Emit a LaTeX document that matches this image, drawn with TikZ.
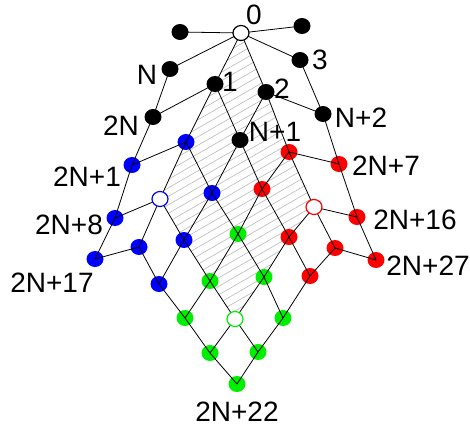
\documentclass[tikz,border=0pt]{standalone}
\usepackage{fontspec}
\setmainfont{Liberation Sans}
\usetikzlibrary{shapes.geometric}
\pgfdeclarelayer{hatch}
\pgfdeclarelayer{dots}
\pgfdeclarelayer{top}
\pgfsetlayers{hatch,dots,main,top}
\definecolor{dotblue}{RGB}{0,0,255}
\definecolor{dotred}{RGB}{255,0,0}
\definecolor{dotgreen}{RGB}{0,238,0}
\definecolor{hatchgray}{RGB}{185,185,185}
\tikzset{
  vtx/.style={ellipse, inner sep=0pt, minimum width=17pt, minimum height=16pt, fill=#1},
  ring/.style={ellipse, inner sep=0pt, minimum width=16pt, minimum height=15pt,
               draw=#1, fill=white, line width=1.2pt},
  lbl/.style={inner sep=0pt, font=\fontsize{28}{30}\selectfont},
  link/.style={line width=0.8pt, black},
  hatchline/.style={hatchgray, line width=0.6pt}
}
\begin{document}
\begin{tikzpicture}[x=1pt, y=-1pt]
\useasboundingbox (0,0) rectangle (470,427);

% corner vertices of the shaded cell (open circles)
\begin{pgfonlayer}{top}
  \node[ring=black]     (g00) at (241,33)  {};
  \node[ring=dotblue]   (g30) at (160,199) {};
  \node[ring=dotred]    (g03) at (314,207) {};
  \node[ring=dotgreen]  (g33) at (235,319) {};
\end{pgfonlayer}

% filled vertices
\begin{pgfonlayer}{dots}
  % top spokes
  \node[vtx=black] (tl) at (180,32) {};
  \node[vtx=black] (tr) at (302,26) {};
  % left column
  \node[vtx=black]   (L0) at (170,69)  {};
  \node[vtx=black]   (L1) at (153,117) {};
  \node[vtx=dotblue] (L2) at (132,165) {};
  \node[vtx=dotblue] (L3) at (115,218) {};
  \node[vtx=dotblue] (L4) at (95,259)  {};
  % right column
  \node[vtx=black]  (R0) at (300,60)  {};
  \node[vtx=black]  (R1) at (323,114) {};
  \node[vtx=dotred] (R2) at (339,164) {};
  \node[vtx=dotred] (R3) at (357,217) {};
  \node[vtx=dotred] (R4) at (376,260) {};
  % lattice
  \node[vtx=black] (g10) at (215,84)  {};
  \node[vtx=black] (g01) at (266,92)  {};
  \node[vtx=black] (g11) at (240,140) {};
  \node[vtx=dotblue] (g20) at (186,142) {};
  \node[vtx=dotblue] (g21) at (212,193) {};
  \node[vtx=dotblue] (g40) at (139,247) {};
  \node[vtx=dotblue] (g31) at (184,240) {};
  \node[vtx=dotblue] (g41) at (159,284) {};
  \node[vtx=dotred] (g02) at (289,152) {};
  \node[vtx=dotred] (g12) at (262,189) {};
  \node[vtx=dotred] (g13) at (289,237) {};
  \node[vtx=dotred] (g04) at (335,248) {};
  \node[vtx=dotred] (g14) at (310,276) {};
  \node[vtx=dotgreen] (g22) at (238,234) {};
  \node[vtx=dotgreen] (g32) at (210,281) {};
  \node[vtx=dotgreen] (g23) at (264,277) {};
  \node[vtx=dotgreen] (g42) at (185,318) {};
  \node[vtx=dotgreen] (g24) at (283,318) {};
  \node[vtx=dotgreen] (g43) at (210,353) {};
  \node[vtx=dotgreen] (g34) at (258,352) {};
  \node[vtx=dotgreen] (g44) at (237,384) {};
\end{pgfonlayer}

% hatched cell
\begin{pgfonlayer}{hatch}
  \begin{scope}
    \clip (g00.center) -- (g10.center) -- (g20.center) -- (g30.center)
      -- (g31.center) -- (g32.center) -- (g33.center) -- (g23.center)
      -- (g13.center) -- (g03.center) -- (g02.center) -- (g01.center) -- cycle;
    \foreach \c in {166,174.5,...,470}
      \draw[hatchline] (140,{\c-0.577*140}) -- (340,{\c-0.577*340});
  \end{scope}
\end{pgfonlayer}

% connectors
\draw[link] (g00.center) -- (tl.center);
\draw[link] (g00.center) -- (tr.center);
\draw[link] (g00.center) -- (L0.center) -- (L1.center) -- (L2.center) -- (L3.center) -- (L4.center);
\draw[link] (g00.center) -- (R0.center) -- (R1.center) -- (R2.center) -- (R3.center) -- (R4.center);
\foreach \k in {1,...,4} {
  \draw[link] (g\k0.center) -- (L\k.center);
  \draw[link] (g0\k.center) -- (R\k.center);
}
\foreach \i in {0,...,4} {
  \foreach \j [evaluate=\j as \k using int(\j+1)] in {0,...,3} {
    \draw[link] (g\i\j.center) -- (g\i\k.center);
    \draw[link] (g\j\i.center) -- (g\k\i.center);
  }
}

% labels
\node[lbl] (t0)    at (254,15)  {0};
\node[lbl] (tN)    at (147,75)  {N};
\node[lbl] (t3)    at (320,60)  {3};
\node[lbl] (t1)    at (230,82)  {1};
\node[lbl] (t2)    at (282,89)  {2};
\node[lbl] (t2N)   at (121,126) {2N};
\node[lbl] (tN2)   at (361,118) {N+2};
\node[lbl] (tN1)   at (275,132) {N+1};
\node[lbl] (t2N1)  at (87,177)  {2N+1};
\node[lbl] (t2N7)  at (386,166) {2N+7};
\node[lbl] (t2N8)  at (69,225)  {2N+8};
\node[lbl] (t2N16) at (415,220) {2N+16};
\node[lbl] (t2N17) at (52,283)  {2N+17};
\node[lbl] (t2N27) at (428,266) {2N+27};
\node[lbl] (t2N22) at (237,412) {2N+22};
\end{tikzpicture}
\end{document}
